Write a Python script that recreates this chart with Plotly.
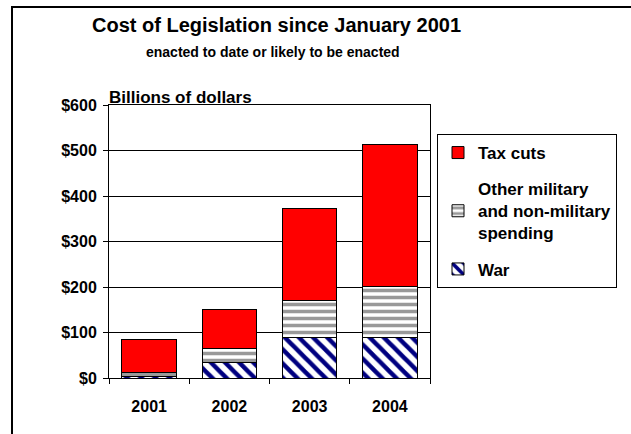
import plotly.graph_objects as go

years = ["2001", "2002", "2003", "2004"]
war = [4, 35, 89, 89]
other = [8, 30, 81, 113]
tax_cuts = [73, 85, 203, 311]
y_ticks = [0, 100, 200, 300, 400, 500, 600]
y_tick_labels = ["$0", "$100", "$200", "$300", "$400", "$500", "$600"]

W, H = 631, 434
L, R, T, B = 109, 201, 105, 56
pw, ph = W - L - R, H - T - B

def px_x(p):
    return (p - L) / pw

def px_y(p):
    return (H - B - p) / ph

FONT = "Liberation Sans"

fig = go.Figure()
fig.add_trace(go.Bar(
    x=years, y=war, name="War", legendgroup="c", legendrank=3,
    marker=dict(color="white", line=dict(color="black", width=1),
                pattern=dict(shape="\\", fgcolor="#000080", bgcolor="white",
                             size=10, solidity=0.45, fillmode="replace")),
))
fig.add_trace(go.Bar(
    x=years, y=other, name="Other military<br>and non-military<br>spending",
    legendgroup="b", legendrank=2,
    marker=dict(color="white", line=dict(color="black", width=1),
                pattern=dict(shape="-", fgcolor="#999999", bgcolor="white",
                             size=7, solidity=0.5, fillmode="replace")),
))
fig.add_trace(go.Bar(
    x=years, y=tax_cuts, name="Tax cuts", legendgroup="a", legendrank=1,
    marker=dict(color="#FF0000", line=dict(color="black", width=1)),
))

fig.update_layout(
    width=W, height=H,
    margin=dict(l=L, r=R, t=T, b=B, pad=0),
    barmode="stack", bargap=0.32,
    paper_bgcolor="white", plot_bgcolor="white",
    font=dict(family=FONT, color="black"),
    legend=dict(
        x=px_x(437), y=px_y(134), xanchor="left", yanchor="top",
        traceorder="grouped", tracegroupgap=11,
        bordercolor="black", borderwidth=1, bgcolor="white",
        font=dict(size=17, family=FONT, weight="bold"),
        itemwidth=30,
    ),
    showlegend=True,
)

fig.update_xaxes(
    showline=True, linecolor="black", linewidth=1, mirror=True,
    ticks="outside", ticklen=5, tickcolor="black", tickson="boundaries",
    tickfont=dict(size=16, family=FONT, weight="bold"),
    ticklabelstandoff=14,
    showgrid=False,
)
fig.update_yaxes(
    range=[0, 600], tickvals=y_ticks, ticktext=y_tick_labels,
    showline=True, linecolor="black", linewidth=1, mirror=True,
    ticks="outside", ticklen=5, tickcolor="black",
    ticklabelstandoff=3,
    showgrid=True, gridcolor="black", gridwidth=1,
    tickfont=dict(size=16, family=FONT, weight="bold"),
    zeroline=False,
)

fig.add_annotation(
    text="<b>Cost of Legislation since January 2001</b>", xref="paper", yref="paper",
    x=px_x(276), y=px_y(25), xanchor="center", yanchor="middle",
    showarrow=False, font=dict(size=20, family=FONT),
)
fig.add_annotation(
    text="<b>enacted to date or likely to be enacted</b>", xref="paper", yref="paper",
    x=px_x(273), y=px_y(52), xanchor="center", yanchor="middle",
    showarrow=False, font=dict(size=14, family=FONT),
)
fig.add_annotation(
    text="<b>Billions of dollars</b>", xref="paper", yref="paper",
    x=0, y=px_y(97), xanchor="left", yanchor="middle",
    showarrow=False, font=dict(size=17, family=FONT),
    xshift=-2,
)

fig.add_shape(
    type="rect", xref="paper", yref="paper",
    x0=px_x(12), y0=px_y(445), x1=px_x(645), y1=px_y(7),
    line=dict(color="black", width=2), fillcolor="rgba(0,0,0,0)", layer="below",
)

fig.write_html("out.html")
